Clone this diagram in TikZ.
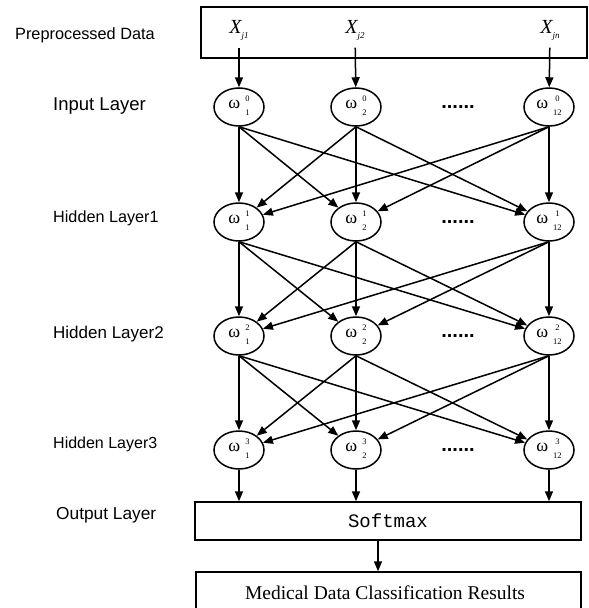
\documentclass[tikz,border=0pt]{standalone}
\usepackage{fontspec}
\setmainfont{Liberation Serif}
\newfontfamily\labfont{Liberation Sans}
\newfontfamily\typefont{Liberation Mono}
\usetikzlibrary{arrows.meta,shapes.geometric}

% weight symbol: omega with a stacked layer index (top) and unit index (bottom)
\newcommand{\wunit}[2]{{\fontsize{18}{18}\selectfont ω}\hspace{5pt}%
  \raisebox{-1pt}{\fontsize{8.5}{8.5}\selectfont\begin{tabular}[c]{@{}c@{}}#1\\[5.5pt]#2\end{tabular}}}
% input feature symbol X with a subscript
\newcommand{\xfeat}[1]{{\fontsize{20}{20}\selectfont\itshape X}\raisebox{-5pt}{\fontsize{9}{9}\selectfont\itshape #1}}

\tikzset{
  unit/.style={ellipse, draw, line width=1.5pt, minimum width=50pt, minimum height=38pt, inner sep=0pt},
  arr/.style={line width=1.5pt, -{Triangle[length=10pt,width=8pt]}},
  box/.style={draw, line width=1.5pt, rectangle, inner sep=0pt},
  layerlab/.style={anchor=west, inner sep=0pt},
  dotsrow/.style={font=\labfont\bfseries\fontsize{20}{20}\selectfont, inner sep=0pt},
}

\begin{document}
\begin{tikzpicture}[x=1pt, y=-1pt]
  \useasboundingbox (0,0) rectangle (589,608);
  \clip (0,0) rectangle (589,608);

  % layer captions
  \node[layerlab, font=\labfont\fontsize{16.3}{18}\selectfont] (lpre) at (15,35) {Preprocessed Data};
  \node[layerlab, font=\labfont\fontsize{18.5}{20}\selectfont] (lin) at (53,106) {Input Layer};
  \node[layerlab, font=\labfont\fontsize{16.2}{18}\selectfont] (lh1) at (53,218) {Hidden Layer1};
  \node[layerlab, font=\labfont\fontsize{17}{19}\selectfont] (lh2) at (53,334) {Hidden Layer2};
  \node[layerlab, font=\labfont\fontsize{16}{18}\selectfont] (lh3) at (53,444) {Hidden Layer3};
  \node[layerlab, font=\labfont\fontsize{17.3}{19}\selectfont] (lout) at (56,515) {Output Layer};

  % preprocessed data box with features
  \node[box, minimum width=386pt, minimum height=51pt] (data) at (394,32.5) {};
  \node (x1) at (239,30) {\xfeat{j1}};
  \node (x2) at (355,30) {\xfeat{j2}};
  \node (xn) at (550,30) {\xfeat{jn}};

  % neurons: rows are layers 0..3, columns are units 1, 2, 12
  \foreach \l/\y in {0/107,1/222,2/336,3/450}{
    \node[unit] (n\l1) at (239,\y) {\wunit{\l}{1}};
    \node[unit] (n\l2) at (356,\y) {\wunit{\l}{2}};
    \node[unit] (n\l3) at (549,\y) {\wunit{\l}{12}};
    \node[dotsrow] (d\l) at (458,\y) {......};
  }

  % output boxes
  \node[box, minimum width=386pt, minimum height=38pt, font=\typefont\fontsize{19}{19}\selectfont] (soft) at (388,521) {Softmax};
  \node[box, minimum width=385pt, minimum height=44pt] (res) at (388.5,594) {};
  \node[font=\fontsize{19.5}{20}\selectfont] (restxt) at (385,593) {Medical Data Classification Results};

  % features into the input layer
  \draw[arr, shorten <=4pt] (x1) -- (n01);
  \draw[arr, shorten <=4pt] (x2) -- (n02);
  \draw[arr, shorten <=4pt] (xn) -- (n03);

  % full connections between consecutive layers
  \foreach \l/\m in {0/1,1/2,2/3}{
    \foreach \i in {1,2,3}{
      \foreach \j in {1,2,3}{
        \draw[arr] (n\l\i.south) -- (n\m\j);
      }
    }
  }

  % last hidden layer into softmax, softmax into results
  \foreach \i in {1,2,3}{
    \draw[arr] (n3\i) -- (n3\i |- soft.north);
  }
  \draw[arr] ([xshift=-10pt]soft.south) -- ([xshift=-10pt]soft.south |- res.north);
\end{tikzpicture}
\end{document}
